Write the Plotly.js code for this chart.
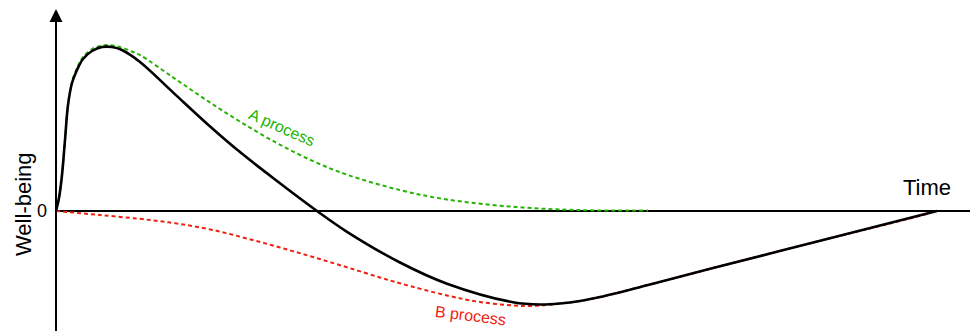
<!DOCTYPE html>
<html>
<head>
<meta charset="utf-8">
<script src="https://cdn.plot.ly/plotly-3.0.1.min.js"></script>
<style>html,body{margin:0;padding:0;background:#fff;}#chart{width:970px;height:331px;}</style>
</head>
<body>
<div id="chart"></div>
<script>
// Time (horizontal) and well-being (vertical) values
const sumTime = [0,3,6,9,12,16,21,27,36,46,56,66,84,117,151,184,221,261,291,344,391,457,484,504,524,544,594,657,771,881];
const sumValue = [0,13,36,71,106,128,141,152,160,164,164,161,149,118.6,87.3,58.9,30,0,-20.8,-51.5,-72.7,-91.2,-93.5,-92.5,-90,-86,-73.5,-57.1,-28,0];

const aTime = [0,3,6,9,12,16,21,27,36,44,52,64,77,84,117,151,184,221,257,291,344,391,457,524,592];
const aValue = [0,13,36,71,106,129,143,154,162,165,166,164,159,156,133.6,110.5,89.4,67.9,49.9,36.3,20.9,11.5,4.2,0.9,0.5];

const bTime = [0,44,94,124,157,191,224,257,291,324,344,391,424,457,474,491,504,524,544,594,657,771,854,874];
const bValue = [0,-4,-9,-13,-19,-27.5,-36.5,-46,-56.3,-66.5,-72.3,-84.5,-91,-94.5,-95,-94,-92.5,-90,-86,-73.5,-57.1,-28,-7.5,-2];

const labels = {y: 'Well-being', zero: '0', x: 'Time', a: 'A process', b: 'B process'};

const green = 'rgb(34,180,0)';
const red = 'rgb(240,32,16)';
const font = 'Liberation Sans, Arial, Helvetica, sans-serif';

const traces = [
  {x: bTime, y: bValue, mode: 'lines', line: {color: red, width: 2, dash: '4px,3px', shape: 'spline', smoothing: 1}, hoverinfo: 'skip'},
  {x: aTime, y: aValue, mode: 'lines', line: {color: green, width: 2, dash: '4px,3px', shape: 'spline', smoothing: 1}, hoverinfo: 'skip'},
  {x: sumTime, y: sumValue, mode: 'lines', line: {color: '#000', width: 2.6, shape: 'spline', smoothing: 1}, hoverinfo: 'skip'}
];

const layout = {
  width: 970, height: 331,
  margin: {l: 0, r: 0, t: 0, b: 0},
  paper_bgcolor: '#fff', plot_bgcolor: '#fff',
  showlegend: false,
  xaxis: {range: [-56, 914], visible: false, fixedrange: true},
  yaxis: {range: [-120, 211], visible: false, fixedrange: true},
  shapes: [
    {type: 'line', xref: 'x', yref: 'y', x0: 0, x1: 914, y0: 0, y1: 0, line: {color: '#000', width: 2}, layer: 'below'}
  ],
  annotations: [
    {x: 0, y: 202, xref: 'x', yref: 'y', ax: 0, ay: -125, axref: 'x', ayref: 'y', text: '', showarrow: true,
     arrowhead: 2, arrowsize: 1.3, arrowwidth: 2, arrowcolor: '#000'},
    {x: -33, y: 7, xref: 'x', yref: 'y', text: labels.y, showarrow: false, textangle: -90,
     font: {family: font, size: 22, color: '#000'}},
    {x: -14, y: 0, xref: 'x', yref: 'y', text: labels.zero, showarrow: false,
     font: {family: font, size: 18, color: '#000'}},
    {x: 871, y: 24, xref: 'x', yref: 'y', text: labels.x, showarrow: false,
     font: {family: font, size: 22, color: '#000'}},
    {x: 226, y: 84, xref: 'x', yref: 'y', text: labels.a, showarrow: false, textangle: 24,
     font: {family: font, size: 16, color: green}},
    {x: 414, y: -104, xref: 'x', yref: 'y', text: labels.b, showarrow: false, textangle: 7,
     font: {family: font, size: 16, color: red}}
  ]
};

Plotly.newPlot('chart', traces, layout, {staticPlot: true, displayModeBar: false});
</script>
</body>
</html>
